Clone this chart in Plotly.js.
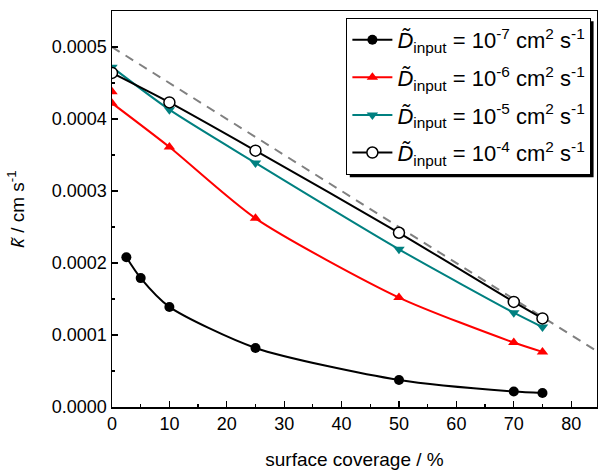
<!DOCTYPE html>
<html>
<head>
<meta charset="utf-8">
<script src="https://cdn.plot.ly/plotly-3.0.1.min.js"></script>
<style>html,body{margin:0;padding:0;background:#fff;}#chart{width:598px;height:471px;}</style>
</head>
<body>
<div id="chart"></div>
<script>
// Data
var seriesNames = [
  "<i>D̃</i><sub>input</sub> = 10<sup>-7</sup> cm<sup>2</sup> s<sup>-1</sup>",
  "<i>D̃</i><sub>input</sub> = 10<sup>-6</sup> cm<sup>2</sup> s<sup>-1</sup>",
  "<i>D̃</i><sub>input</sub> = 10<sup>-5</sup> cm<sup>2</sup> s<sup>-1</sup>",
  "<i>D̃</i><sub>input</sub> = 10<sup>-4</sup> cm<sup>2</sup> s<sup>-1</sup>"
];
var x7 = [2.5, 5, 10, 25, 50, 70, 75];
var y7 = [0.000208, 0.000179, 0.000139, 0.000082, 0.0000375, 0.0000215, 0.0000195];
var x6 = [0, 0, 10, 25, 50, 70, 75];
var y6 = [0.000438, 0.000422, 0.000361, 0.000262, 0.000152, 0.0000895, 0.0000765];
var x5 = [0, 10, 25, 50, 70, 75];
var y5 = [0.000472, 0.000413, 0.000339, 0.000219, 0.000131, 0.000111];
var x4 = [0, 10, 25, 50, 70, 75];
var y4 = [0.000464, 0.000423, 0.000356, 0.000242, 0.000146, 0.000123];
var refX = [0, 100];
var refY = [0.0005, 0];

var FONT = "Arial, 'Liberation Sans', sans-serif";
var SM = 0.7;

var traces = [
  {x: refX, y: refY, mode: "lines", line: {color: "#808080", width: 2, dash: "9px,7px"}, showlegend: false, hoverinfo: "skip"},
  {x: x7, y: y7, mode: "lines+markers", name: seriesNames[0], legendgroup: "g7", line: {color: "#000000", width: 2, shape: "spline", smoothing: SM},
   marker: {symbol: "circle", size: 10, color: "#000000"}},
  {x: x6.slice(1), y: y6.slice(1), mode: "lines+markers", name: seriesNames[1], legendgroup: "g6", line: {color: "#ff0000", width: 2, shape: "spline", smoothing: SM},
   marker: {symbol: "triangle-up", size: 10, color: "#ff0000"}},
  {x: x6.slice(0, 1), y: y6.slice(0, 1), mode: "markers", showlegend: false, legendgroup: "g6",
   marker: {symbol: "triangle-up", size: 10, color: "#ff0000"}},
  {x: x5, y: y5, mode: "lines+markers", name: seriesNames[2], legendgroup: "g5", line: {color: "#008080", width: 2, shape: "spline", smoothing: SM},
   marker: {symbol: "triangle-down", size: 10, color: "#008080"}},
  {x: x4, y: y4, mode: "lines+markers", name: seriesNames[3], legendgroup: "g4", line: {color: "#000000", width: 2, shape: "spline", smoothing: SM},
   marker: {symbol: "circle", size: 11, color: "#ffffff", line: {color: "#000000", width: 1.5}}}
];

var layout = {
  width: 598, height: 471,
  margin: {l: 112, r: 1, t: 11, b: 64},
  paper_bgcolor: "#ffffff", plot_bgcolor: "#ffffff",
  font: {family: FONT, size: 18, color: "#000000"},
  showlegend: true,
  legend: {
    x: 0.988, xanchor: "right", y: 0.983, yanchor: "top",
    bgcolor: "#ffffff", bordercolor: "#000000", borderwidth: 1.2,
    font: {family: FONT, size: 22, color: "#000000"},
    tracegroupgap: 6, itemwidth: 40
  },
  xaxis: {
    range: [0, 84.5], showgrid: false, zeroline: false,
    showline: true, linecolor: "#000000", linewidth: 1.5, mirror: true,
    ticks: "inside", ticklen: 6, tickwidth: 1.2, tickcolor: "#000000",
    dtick: 10, tick0: 0,
    minor: {ticks: "inside", ticklen: 3, dtick: 5, tickcolor: "#000000", tickwidth: 1.2},
    tickfont: {family: FONT, size: 18},
    title: {text: "surface coverage / %", font: {family: FONT, size: 19}, standoff: 19}
  },
  yaxis: {
    range: [0, 0.00055], showgrid: false, zeroline: false,
    showline: true, linecolor: "#000000", linewidth: 1.5, mirror: true,
    ticks: "inside", ticklen: 6, tickwidth: 1.2, tickcolor: "#000000",
    dtick: 0.0001, tick0: 0, tickformat: ".4f",
    minor: {ticks: "inside", ticklen: 3, dtick: 0.00005, tickcolor: "#000000", tickwidth: 1.2},
    tickfont: {family: FONT, size: 18},
    title: {text: "<i>k̃</i> / cm s<sup>-1</sup>", font: {family: FONT, size: 19}, standoff: 22}
  },
  shapes: []
};

var gd = document.getElementById("chart");
Plotly.newPlot(gd, traces, layout, {displayModeBar: false, staticPlot: true}).then(function () {
  var bg = gd.querySelector(".legend .bg");
  if (!bg) return;
  var r = bg.getBoundingClientRect();
  var g = gd.getBoundingClientRect();
  var L = 112, T = 11, W = 485, H = 396, off = 3;
  var x0 = (r.left - g.left + off - L) / W, x1 = (r.right - g.left + off - L) / W;
  var y1 = (T + H - (r.top - g.top + off)) / H, y0 = (T + H - (r.bottom - g.top + off)) / H;
  return Plotly.relayout(gd, {shapes: [{type: "rect", xref: "paper", yref: "paper", layer: "above",
    x0: x0, x1: x1, y0: y0, y1: y1, fillcolor: "#000000", line: {width: 0}}]});
});
</script>
</body>
</html>
